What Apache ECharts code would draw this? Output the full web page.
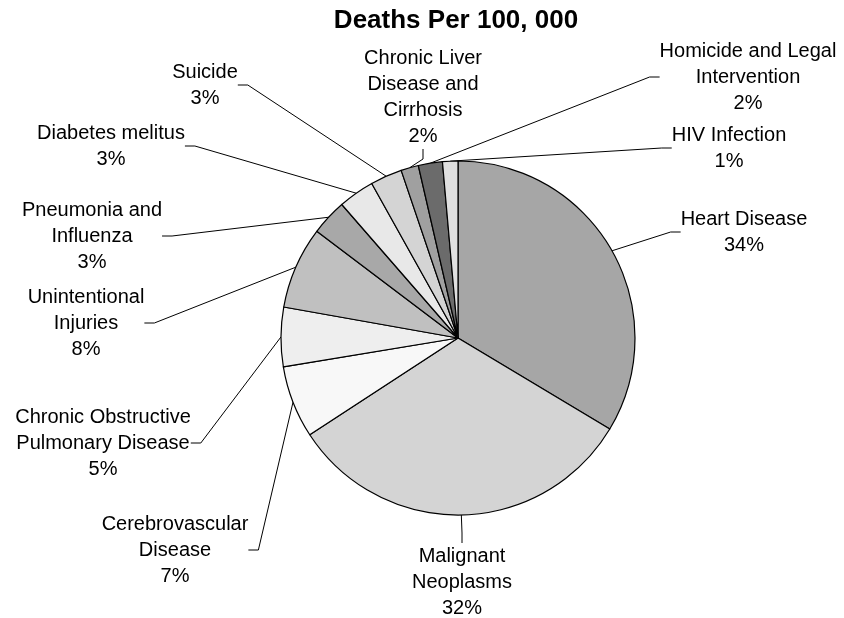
<!DOCTYPE html>
<html>
<head>
<meta charset="utf-8">
<title>Deaths Per 100, 000</title>
<script src="https://cdn.jsdelivr.net/npm/echarts@6/dist/echarts.min.js"></script>
<style>
    html, body { margin: 0; padding: 0; background: #fff; }
    #deathsPie { width: 844px; height: 618px; }
</style>
</head>
<body>
<div id="deathsPie"></div>
<script>
    // causes, clockwise from 12 o'clock
    var causes = [
        'Heart Disease',
        'Malignant\nNeoplasms',
        'Cerebrovascular\nDisease',
        'Chronic Obstructive\nPulmonary Disease',
        'Unintentional\nInjuries',
        'Pneumonia and\nInfluenza',
        'Diabetes melitus',
        'Suicide',
        'Chronic Liver\nDisease and\nCirrhosis',
        'Homicide and Legal\nIntervention',
        'HIV Infection'
    ]
    // share of deaths
    var shares = [33.6, 32.2, 6.6, 5.4, 7.5, 3.3, 3.3, 2.9, 1.6, 2.2, 1.4]
    var sliceColors = ['#a6a6a6', '#d4d4d4', '#f8f8f8', '#eeeeee', '#c0c0c0', '#a8a8a8',
        '#e8e8e8', '#d4d4d4', '#a0a0a0', '#6b6b6b', '#e0e0e0']

    // where each label block sits (centre of the text block)
    var labelPos = [
        [744, 232], [462, 582], [175, 550], [103, 443], [86, 323], [92, 236],
        [111, 146], [205, 85], [423, 97], [748, 77], [729, 148]
    ]

    var pieData = causes.map(function (name, i) {
        return { name: name, value: shares[i], itemStyle: { color: sliceColors[i] } }
    })

    var chart = echarts.init(document.getElementById('deathsPie'))
    chart.setOption({
        animation: false,
        title: {
            text: 'Deaths Per 100, 000',
            left: 451,
            top: 3,
            textAlign: 'center',
            textStyle: {
                fontFamily: 'Liberation Sans',
                fontSize: 26,
                fontWeight: 'bold',
                color: '#000'
            }
        },
        series: [
            {
                type: 'pie',
                center: [458, 338],
                radius: 177,
                startAngle: 90,
                clockwise: true,
                avoidLabelOverlap: false,
                emphasis: { disabled: true },
                itemStyle: {
                    borderColor: '#000',
                    borderWidth: 1.2
                },
                label: {
                    show: true,
                    position: 'outside',
                    alignTo: 'none',
                    fontFamily: 'Liberation Sans',
                    fontSize: 20,
                    lineHeight: 26,
                    color: '#000',
                    align: 'center',
                    formatter: function (p) {
                        return p.name + '\n' + Math.round(p.percent) + '%'
                    }
                },
                labelLine: {
                    show: true,
                    length: 10,
                    length2: 10,
                    lineStyle: { color: '#000', width: 1 }
                },
                labelLayout: function (params) {
                    var pos = labelPos[params.dataIndex]
                    return {
                        x: pos[0],
                        y: pos[1],
                        align: 'center',
                        verticalAlign: 'middle'
                    }
                },
                data: pieData
            }
        ]
    })
</script>
</body>
</html>
